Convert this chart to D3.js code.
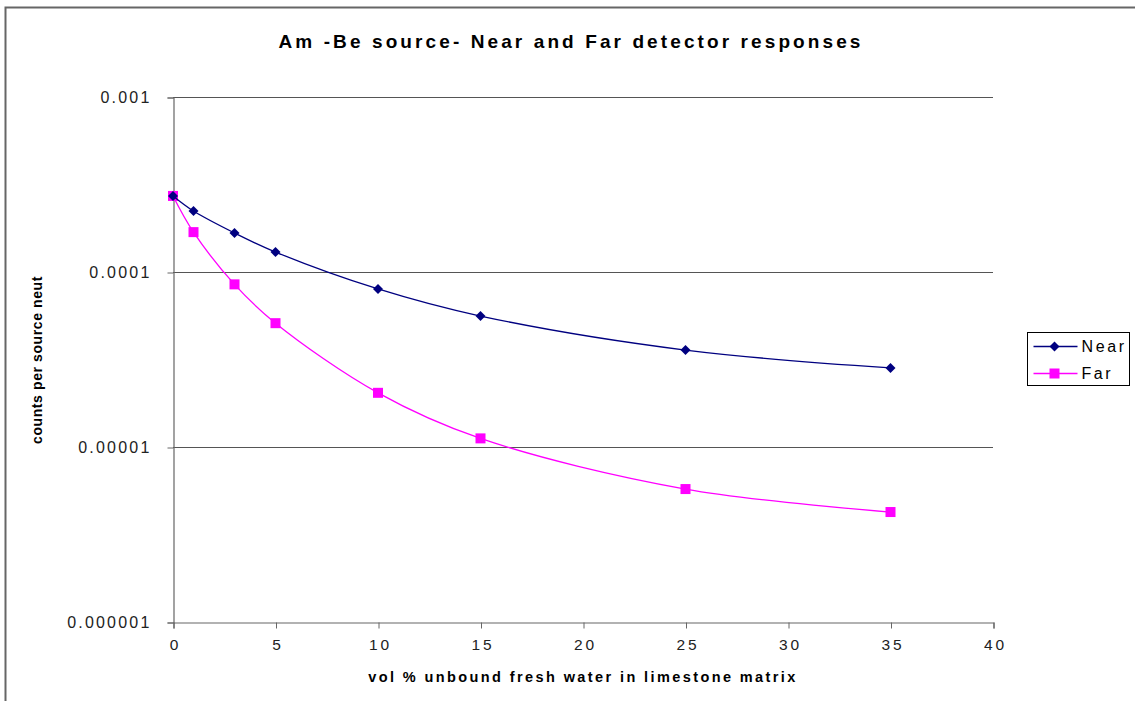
<!DOCTYPE html>
<html>
<head>
<meta charset="utf-8">
<script src="https://cdn.jsdelivr.net/npm/d3@7"></script>
<style>
  html, body { margin: 0; padding: 0; background: #fff; }
  svg { display: block; font-family: "Liberation Sans", Arial, sans-serif; }
</style>
</head>
<body>
<svg id="chart" width="1135" height="701"></svg>
<script>
// Water content (vol %) in the limestone matrix
const waterPct = [0, 1, 3, 5, 10, 15, 25, 35];
// Detector responses, counts per source neutron
const nearCounts = [2.72e-4, 2.23e-4, 1.67e-4, 1.30e-4, 8.0e-5, 5.6e-5, 3.58e-5, 2.83e-5];
const farCounts  = [2.72e-4, 1.69e-4, 8.5e-5, 5.1e-5, 2.04e-5, 1.12e-5, 5.75e-6, 4.25e-6];
const xTicks = [0, 5, 10, 15, 20, 25, 30, 35, 40];
const yTicks = [1e-3, 1e-4, 1e-5, 1e-6];
const yTickLabels = ["0.001", "0.0001", "0.00001", "0.000001"];

const svg = d3.select("#chart");
const plot = { left: 173, right: 993, top: 97, bottom: 622 };

const x = d3.scaleLinear().domain([0, 40]).range([plot.left, plot.right]);
const y = d3.scaleLog().domain([1e-6, 1e-3]).range([plot.bottom, plot.top]);

// outer frame (top and left edges)
svg.append("path")
  .attr("d", "M5.5,701 L5.5,7.5 L1135,7.5")
  .attr("fill", "none").attr("stroke", "#666").attr("stroke-width", 2);

// horizontal gridlines at each decade
svg.append("g").selectAll("line").data(yTicks.slice(0, 3)).join("line")
  .attr("x1", plot.left).attr("x2", plot.right)
  .attr("y1", d => Math.round(y(d)) + 0.5).attr("y2", d => Math.round(y(d)) + 0.5)
  .attr("stroke", "#555").attr("stroke-width", 1.2);

// y axis
const yAxis = d3.axisLeft(y).tickValues(yTicks)
  .tickFormat((d, i) => yTickLabels[i]).tickSize(6).tickPadding(16);
const gy = svg.append("g").attr("transform", `translate(${plot.left + 0.5},0.5)`).call(yAxis);
gy.select(".domain").attr("stroke", "#666").attr("stroke-width", 1.2);
gy.selectAll(".tick line").attr("stroke", "#666");
gy.selectAll(".tick text").attr("font-size", 16).attr("fill", "#222")
  .attr("font-family", "Liberation Sans, Arial, sans-serif").attr("letter-spacing", "2.2px");

// x axis
const xAxis = d3.axisBottom(x).tickValues(xTicks).tickSize(6).tickPadding(10);
const gx = svg.append("g").attr("transform", `translate(0.5,${plot.bottom + 0.5})`).call(xAxis);
gx.select(".domain").attr("stroke", "#666").attr("stroke-width", 1.2);
gx.selectAll(".tick line").attr("stroke", "#666");
gx.selectAll(".tick text").attr("font-size", 15.5).attr("fill", "#222")
  .attr("font-family", "Liberation Sans, Arial, sans-serif").attr("letter-spacing", "3px")
  .attr("dx", "1.5px");

// title
svg.append("text").attr("x", 571).attr("y", 48).attr("text-anchor", "middle")
  .attr("font-size", 19).attr("font-weight", "bold").attr("letter-spacing", "3.1px")
  .attr("fill", "#000").text("Am -Be source- Near and Far detector responses");

// axis titles
svg.append("text").attr("x", 583).attr("y", 682).attr("text-anchor", "middle")
  .attr("font-size", 14.5).attr("font-weight", "bold").attr("letter-spacing", "2.4px")
  .attr("fill", "#000").text("vol % unbound fresh water in limestone matrix");

svg.append("text").attr("transform", "translate(42,360) rotate(-90)")
  .attr("text-anchor", "middle").attr("font-size", 14).attr("font-weight", "bold")
  .attr("letter-spacing", "0.6px")
  .attr("fill", "#000").text("counts per source neut");

// series
const series = [
  { name: "Near", values: nearCounts, color: "#000080", marker: "diamond" },
  { name: "Far",  values: farCounts,  color: "#FF00FF", marker: "square" }
];

const line = d3.line()
  .x(d => x(d[0])).y(d => y(d[1]))
  .curve(d3.curveCatmullRom.alpha(0.5));

function drawMarker(g, type, color) {
  if (type === "diamond") {
    g.append("path").attr("d", d3.symbol().type(d3.symbolSquare).size(50)())
      .attr("transform", "rotate(45)").attr("fill", color);
  } else {
    g.append("rect").attr("x", -5).attr("y", -5).attr("width", 10).attr("height", 10)
      .attr("fill", color);
  }
}

// draw Far first so Near sits on top
[series[1], series[0]].forEach(s => {
  const pts = waterPct.map((w, i) => [w, s.values[i]]);
  svg.append("path").datum(pts).attr("d", line)
    .attr("fill", "none").attr("stroke", s.color).attr("stroke-width", 1.3);
  svg.append("g").selectAll("g").data(pts).join("g")
    .attr("transform", d => `translate(${x(d[0])},${y(d[1])})`)
    .each(function () { drawMarker(d3.select(this), s.marker, s.color); });
});

// legend
const legend = svg.append("g").attr("transform", "translate(1027.5,332.5)");
legend.append("rect").attr("width", 102).attr("height", 53)
  .attr("fill", "#fff").attr("stroke", "#000").attr("stroke-width", 1);
series.forEach((s, i) => {
  const row = legend.append("g").attr("transform", `translate(0,${14 + i * 27})`);
  row.append("line").attr("x1", 6).attr("x2", 50).attr("stroke", s.color).attr("stroke-width", 1.3);
  const m = row.append("g").attr("transform", "translate(27,0)");
  drawMarker(m, s.marker, s.color);
  row.append("text").attr("x", 54).attr("y", 5.5).attr("font-size", 16)
    .attr("letter-spacing", "2.6px").attr("fill", "#000").text(s.name);
});
</script>
</body>
</html>
